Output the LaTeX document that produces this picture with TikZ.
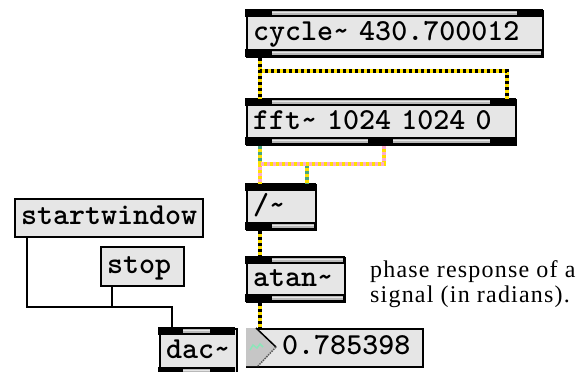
\documentclass[tikz,border=0pt]{standalone}
\usepackage{fontspec}
\setmainfont{Liberation Serif}
\usetikzlibrary{calc}

\definecolor{boxfill}{RGB}{230,230,230}
\definecolor{cordyellow}{RGB}{255,225,0}
\definecolor{cordpink}{RGB}{255,170,205}
\definecolor{cordgreen}{RGB}{70,165,125}
\definecolor{mint}{RGB}{140,230,185}

% gray stripe in a black inlet/outlet bar
\newcommand{\portgap}[3]{%
  \fill[gray!55] (#1,#3) rectangle (#2,#3+4);
  \fill[gray!20] (#1,#3+1) rectangle (#2,#3+2.2);}

\begin{document}
\begin{tikzpicture}[x=1pt,y=-1pt,
  obj/.style 2 args={draw=black,line width=2,fill=boxfill,anchor=north west,
    inner xsep=6,inner ysep=0,text width=#1,minimum height=#2,align=left,
    text height=18,text depth=5,font=\fontsize{30.5}{32}\ttfamily\bfseries},
  sig/.style={line width=4,draw=cordyellow,
    postaction={draw=black,line width=4,dash pattern=on 3 off 3}},
  sigpink/.style={line width=4,draw=cordyellow,
    postaction={draw=cordpink,line width=4,dash pattern=on 3 off 3}},
  siggreen/.style={line width=4,draw=cordyellow,
    postaction={draw=cordgreen,line width=4,dash pattern=on 3 off 3}},
  ctl/.style={line width=2.2,draw=black},
  note/.style={anchor=base west,inner sep=0,
    font=\fontsize{24}{26}\selectfont\addfontfeature{LetterSpace=5}}]
\useasboundingbox (0,0) rectangle (579,372);

% objects
\node[obj={284}{46}] (cyc) at (246,10) {cycle\textasciitilde{} 430.700012};
\node[obj={257}{45}] (fft) at (246,99) {fft\textasciitilde{} 1024 1024 0};
\node[obj={57}{45}] (div) at (246,184) {/\textasciitilde};
\node[obj={86}{44}] (atn) at (246,257) {atan\textasciitilde};
\node[obj={164}{38}] (num) at (246,328) {};
\node[obj={176}{38}] (startw) at (14,198) {startwindow};
\node[obj={71}{39}] (stop) at (100,246) {stop};
\node[obj={65}{46}] (dac) at (159,328) {dac\textasciitilde};

% inlet and outlet bars
\fill (245,9) rectangle (543,17);   \portgap{272}{517}{11}
\fill (245,49) rectangle (543,57);  \portgap{272}{541}{51}
\fill (245,98) rectangle (516,106); \portgap{272}{490}{100}
\fill (245,137) rectangle (516,145);\portgap{272}{368}{139}\portgap{393}{490}{139}
\fill (245,183) rectangle (316,191);
\fill (245,222) rectangle (316,230);\portgap{272}{314}{224}
\fill (245,256) rectangle (345,264);\portgap{272}{343}{258}
\fill (245,294) rectangle (345,302);\portgap{272}{343}{296}
\fill (158,327) rectangle (235,335);\portgap{183}{210}{329}
\fill (158,367) rectangle (235,375);\portgap{183}{210}{369}

% number box arrow
\fill[gray!45] (246,328) -- (256,328) -- (276,347) -- (258,366) -- (246,366) -- cycle;
\draw[line width=1.5] (256,328) -- (276,347);
\draw[line width=1.5,gray!70!black,densely dotted] (276,347) -- (258,366);
\draw[mint,line width=1.5] (250,350) -- (253,345) -- (257,348) -- (260,344) -- (263,347);
\node[anchor=west,inner sep=0,text height=18,text depth=5,
  font=\fontsize{30.5}{32}\ttfamily\bfseries] (numval) at ([xshift=36]num.west) {0.785398};

% patch cords
\draw[sig] ([xshift=14]cyc.south west) -- ([xshift=14]fft.north west);
\draw[sig] ([xshift=14]cyc.south west) -- ++(0,13) -| ([xshift=-10]fft.north east);
\draw[siggreen] ([xshift=14]fft.south west) -- ++(0,18) -| ([xshift=-10]div.north east);
\draw[sigpink] ([xshift=2]fft.south) -- ++(0,18) -| ([xshift=14]div.north west);
\draw[sig] ([xshift=14]div.south west) -- ([xshift=14]atn.north west);
\draw[sig] ([xshift=14]atn.south west) -- ([xshift=14]num.north west);
\draw[ctl] ([xshift=13]startw.south west) -- ++(0,69) -| ([xshift=13]dac.north west);
\draw[ctl] ([xshift=12]stop.south west) -- ++(0,20) -| ([xshift=13]dac.north west);

% comment
\node[note] (cmt1) at (370,277) {phase response of a};
\node[note] (cmt2) at (370,302) {signal (in radians).};
\end{tikzpicture}
\end{document}
